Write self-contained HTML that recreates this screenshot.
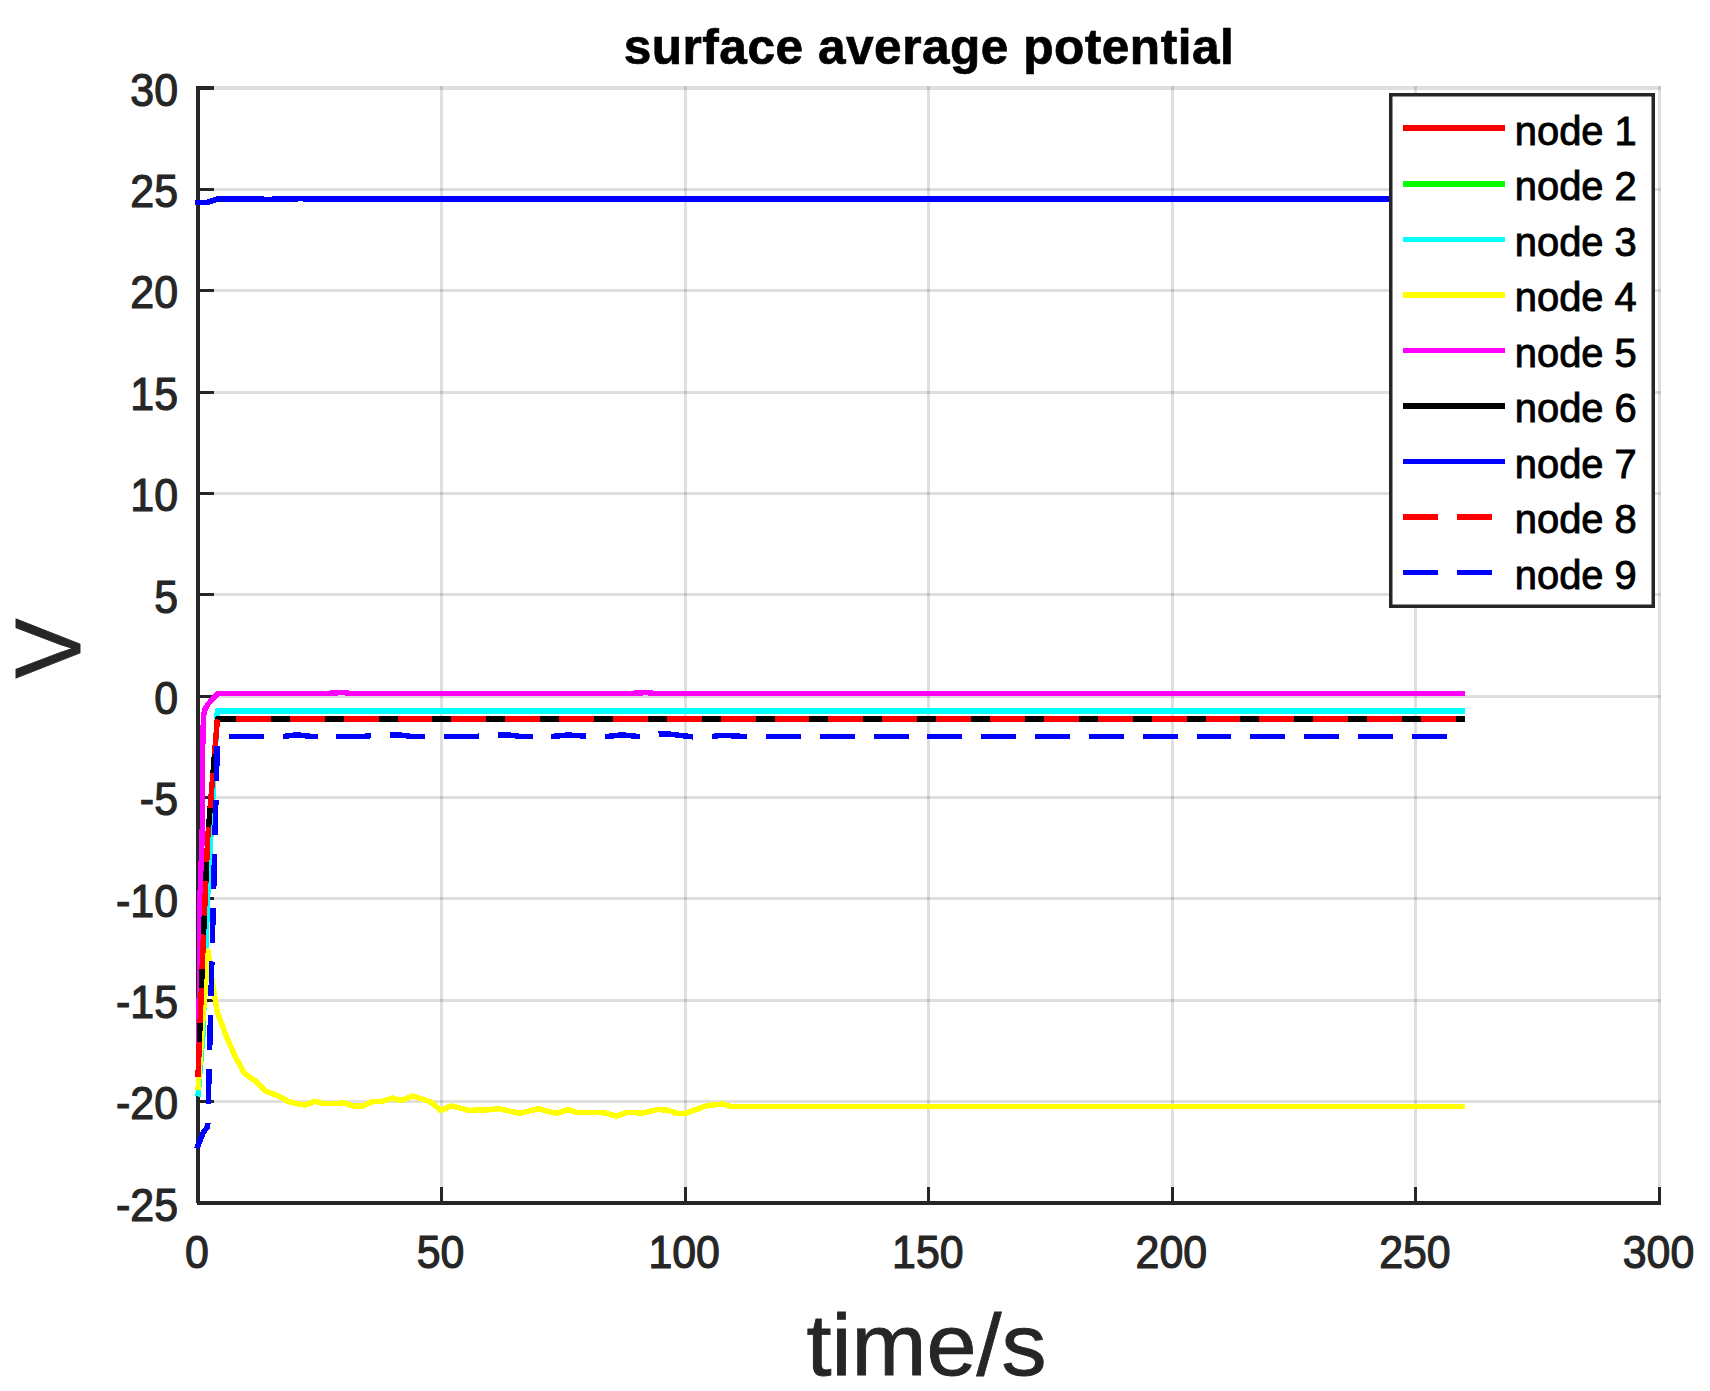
<!DOCTYPE html>
<html lang="en"><head><meta charset="utf-8"><title>surface average potential</title>
<style>html,body{margin:0;padding:0;background:#fff;}body{width:1710px;height:1391px;overflow:hidden;}svg{display:block;}text{font-family:"Liberation Sans",Arial,Helvetica,sans-serif;}.tk{font-size:42.9px;fill:#262626;stroke:#262626;stroke-width:1.1;}.lg{font-size:39.9px;fill:#000;stroke:#000;stroke-width:0.9;}.c{fill:none;stroke-width:5.5;stroke-linejoin:round;stroke-linecap:butt;shape-rendering:crispEdges;}</style></head><body>
<svg width="1710" height="1391" viewBox="0 0 1710 1391">
<rect x="0" y="0" width="1710" height="1391" fill="#fff"/>
<g fill="#262626" fill-opacity="0.15" shape-rendering="crispEdges">
<rect x="440" y="86" width="3" height="1117"/>
<rect x="684" y="86" width="3" height="1117"/>
<rect x="927" y="86" width="3" height="1117"/>
<rect x="1171" y="86" width="3" height="1117"/>
<rect x="1414" y="86" width="3" height="1117"/>
<rect x="1658" y="86" width="3" height="1117"/>
<rect x="198" y="1100" width="1463" height="3"/>
<rect x="198" y="999" width="1463" height="3"/>
<rect x="198" y="897" width="1463" height="3"/>
<rect x="198" y="796" width="1463" height="3"/>
<rect x="198" y="695" width="1463" height="3"/>
<rect x="198" y="593" width="1463" height="3"/>
<rect x="198" y="492" width="1463" height="3"/>
<rect x="198" y="391" width="1463" height="3"/>
<rect x="198" y="289" width="1463" height="3"/>
<rect x="198" y="188" width="1463" height="3"/>
<rect x="198" y="86" width="1463" height="4"/>
</g>
<g fill="#262626" shape-rendering="crispEdges">
<rect x="196" y="86" width="4" height="1117"/>
<rect x="197" y="1201" width="1464" height="4"/>
<rect x="196" y="1100" width="18" height="3"/>
<rect x="196" y="999" width="18" height="3"/>
<rect x="196" y="897" width="18" height="3"/>
<rect x="196" y="796" width="18" height="3"/>
<rect x="196" y="695" width="18" height="3"/>
<rect x="196" y="593" width="18" height="3"/>
<rect x="196" y="492" width="18" height="3"/>
<rect x="196" y="391" width="18" height="3"/>
<rect x="196" y="289" width="18" height="3"/>
<rect x="196" y="188" width="18" height="3"/>
<rect x="196" y="86" width="18" height="4"/>
<rect x="440" y="1187" width="3" height="16"/>
<rect x="684" y="1187" width="3" height="16"/>
<rect x="927" y="1187" width="3" height="16"/>
<rect x="1171" y="1187" width="3" height="16"/>
<rect x="1414" y="1187" width="3" height="16"/>
<rect x="1658" y="1187" width="3" height="16"/>
</g>
<path class="c" stroke="#ff0000" d="M198.0,1077.0 L202.9,949.0 L207.7,838.0 L217.4,719.0 L1464.6,719.0"/>
<path class="c" stroke="#00ff00" d="M198.0,1096.5 L202.9,1035.0 L207.7,895.0 L217.4,711.0 L1464.6,711.0"/>
<path class="c" stroke="#00ffff" d="M198.0,1096.5 L202.9,1035.0 L207.7,895.0 L217.4,711.0 L1464.6,711.0"/>
<path class="c" stroke="#ffff00" d="M198.0,1090.0 L203.0,1018.0 L208.1,951.0 L212.6,984.0 L217.2,1011.6 L227.0,1038.0 L236.0,1058.0 L244.4,1073.2 L257.1,1082.3 L266.1,1091.3 L277.0,1095.3 L287.9,1101.3 L296.0,1103.5 L305.1,1105.0 L315.1,1101.3 L324.2,1103.7 L334.0,1103.4 L344.1,1103.1 L353.2,1105.9 L363.1,1105.9 L373.1,1101.3 L382.2,1101.3 L393.0,1098.2 L401.2,1100.4 L413.0,1095.9 L422.0,1099.0 L431.1,1102.2 L441.1,1110.4 L451.1,1105.9 L460.0,1108.0 L469.2,1110.4 L487.3,1109.8 L498.7,1108.7 L509.0,1111.0 L519.3,1113.3 L529.0,1111.0 L538.9,1108.7 L548.0,1111.5 L556.7,1113.3 L568.0,1109.6 L577.3,1112.4 L601.6,1112.4 L609.0,1114.0 L616.6,1116.1 L626.9,1112.4 L642.8,1113.0 L657.8,1109.6 L667.1,1110.1 L677.4,1113.3 L685.8,1113.3 L696.0,1109.5 L706.4,1105.8 L714.0,1104.8 L723.3,1104.0 L730.7,1106.5 L1464.6,1106.5"/>
<path class="c" stroke="#ff00ff" d="M198.3,1076.0 L198.7,1040.0 L199.5,980.0 L199.6,905.0 L200.7,880.0 L202.3,828.0 L202.6,750.0 L203.5,716.0 L205.2,709.0 L207.7,704.5 L217.5,693.5 L325.0,693.5 L335.0,693.0 L343.0,692.3 L350.0,693.5 L630.0,693.5 L646.0,692.6 L656.0,693.5 L1464.6,693.5"/>
<path class="c" stroke="#000000" d="M198.0,1077.0 L202.9,949.0 L207.7,838.0 L217.4,719.0 L1464.6,719.0"/>
<path class="c" stroke="#0000ff" d="M195.2,202.3 L207.7,202.3 L217.5,199.0 L262.0,199.0 L268.0,199.8 L274.0,199.0 L296.0,199.0 L300.0,198.3 L305.0,199.0 L1464.6,199.0"/>
<path class="c" stroke="#ff0000" stroke-dasharray="34.9 18.97" d="M198.0,1077.0 L202.9,949.0 L207.7,838.0 L217.4,719.0 L1464.6,719.0"/>
<path class="c" stroke="#0000ff" stroke-dasharray="34.9 18.92" stroke-dashoffset="6.5" d="M196.8,1148.6 L198.0,1145.4 L203.0,1133.0 L207.7,1126.4 L217.5,736.5"/>
<path class="c" stroke="#0000ff" stroke-dasharray="34.9 18.92" stroke-dashoffset="42.3" d="M217.5,736.5 L283.0,736.5 L297.0,734.8 L310.0,736.3 L337.0,736.6 L362.0,736.6 L371.0,735.6 L391.0,735.0 L400.0,735.0 L410.0,736.3 L444.0,736.3 L478.0,736.3 L498.0,734.8 L512.0,735.3 L520.0,736.5 L552.0,736.5 L568.0,735.0 L584.0,736.0 L605.0,736.8 L622.0,734.8 L638.0,736.5 L659.0,734.0 L670.0,734.2 L692.0,736.8 L712.0,736.5 L722.0,735.3 L745.0,736.5 L1464.6,736.5"/>
<text class="tk" text-anchor="end" transform="translate(178.0,1220.7) scale(1,1.065)">-25</text>
<text class="tk" text-anchor="end" transform="translate(178.0,1119.3) scale(1,1.065)">-20</text>
<text class="tk" text-anchor="end" transform="translate(178.0,1018.0) scale(1,1.065)">-15</text>
<text class="tk" text-anchor="end" transform="translate(178.0,916.6) scale(1,1.065)">-10</text>
<text class="tk" text-anchor="end" transform="translate(178.0,815.2) scale(1,1.065)">-5</text>
<text class="tk" text-anchor="end" transform="translate(178.0,713.9) scale(1,1.065)">0</text>
<text class="tk" text-anchor="end" transform="translate(178.0,612.5) scale(1,1.065)">5</text>
<text class="tk" text-anchor="end" transform="translate(178.0,511.2) scale(1,1.065)">10</text>
<text class="tk" text-anchor="end" transform="translate(178.0,409.8) scale(1,1.065)">15</text>
<text class="tk" text-anchor="end" transform="translate(178.0,308.4) scale(1,1.065)">20</text>
<text class="tk" text-anchor="end" transform="translate(178.0,207.1) scale(1,1.065)">25</text>
<text class="tk" text-anchor="end" transform="translate(178.0,105.7) scale(1,1.065)">30</text>
<text class="tk" text-anchor="middle" transform="translate(197.0,1267.6) scale(1,1.065)">0</text>
<text class="tk" text-anchor="middle" transform="translate(440.6,1267.6) scale(1,1.065)">50</text>
<text class="tk" text-anchor="middle" transform="translate(684.2,1267.6) scale(1,1.065)">100</text>
<text class="tk" text-anchor="middle" transform="translate(927.8,1267.6) scale(1,1.065)">150</text>
<text class="tk" text-anchor="middle" transform="translate(1171.3,1267.6) scale(1,1.065)">200</text>
<text class="tk" text-anchor="middle" transform="translate(1414.9,1267.6) scale(1,1.065)">250</text>
<text class="tk" text-anchor="middle" transform="translate(1658.5,1267.6) scale(1,1.065)">300</text>
<text text-anchor="middle" x="929.0" y="63.7" style="font-size:49.6px;font-weight:bold;fill:#000;stroke:#000;stroke-width:0.7;letter-spacing:0.5px">surface average potential</text>
<text text-anchor="middle" transform="translate(926.5,1374.6) scale(1,0.97)" style="font-size:90px;fill:#262626;stroke:#262626;stroke-width:0.9">time/s</text>
<text text-anchor="middle" transform="translate(80.1,648.4) rotate(-90) scale(1,1.03)" x="0" y="0" style="font-size:90px;fill:#262626;stroke:#262626;stroke-width:0.9">V</text>
<rect x="1390.75" y="94.75" width="262.5" height="511.5" fill="#fff" stroke="#262626" stroke-width="3.5"/>
<path class="c" stroke="#ff0000" d="M1403,128.2 L1505,128.2"/>
<text class="lg" x="1514.8" y="144.6">node 1</text>
<path class="c" stroke="#00ff00" d="M1403,183.8 L1505,183.8"/>
<text class="lg" x="1514.8" y="200.2">node 2</text>
<path class="c" stroke="#00ffff" d="M1403,239.3 L1505,239.3"/>
<text class="lg" x="1514.8" y="255.7">node 3</text>
<path class="c" stroke="#ffff00" d="M1403,294.8 L1505,294.8"/>
<text class="lg" x="1514.8" y="311.2">node 4</text>
<path class="c" stroke="#ff00ff" d="M1403,350.4 L1505,350.4"/>
<text class="lg" x="1514.8" y="366.8">node 5</text>
<path class="c" stroke="#000000" d="M1403,405.9 L1505,405.9"/>
<text class="lg" x="1514.8" y="422.3">node 6</text>
<path class="c" stroke="#0000ff" d="M1403,461.5 L1505,461.5"/>
<text class="lg" x="1514.8" y="477.9">node 7</text>
<path class="c" stroke="#ff0000" stroke-dasharray="35 19" d="M1403,517.0 L1505,517.0"/>
<text class="lg" x="1514.8" y="533.4">node 8</text>
<path class="c" stroke="#0000ff" stroke-dasharray="35 19" d="M1403,572.6 L1505,572.6"/>
<text class="lg" x="1514.8" y="589.0">node 9</text>
</svg></body></html>
